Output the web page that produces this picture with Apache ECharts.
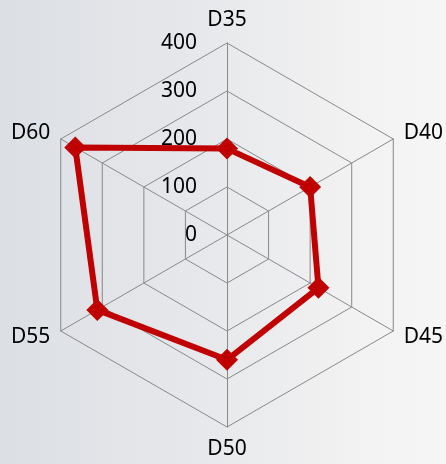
<!DOCTYPE html>
<html>
<head>
<meta charset="utf-8">
<script src="https://cdn.jsdelivr.net/npm/echarts@6/dist/echarts.min.js"></script>
<style>
  html, body { margin: 0; padding: 0; }
  body { background: linear-gradient(to right, #dcdfe4 0%, #e7e8eb 45%, #f2f2f2 80%, #f6f6f6 100%); }
  #radarChart { width: 446px; height: 464px; }
</style>
</head>
<body>
<div id="radarChart"></div>
<script>
  // indicators clockwise from the top
  var indicatorNames = ['D35', 'D40', 'D45', 'D50', 'D55', 'D60'];
  var seriesValues = [180, 200, 220, 260, 312, 365];
  var tickLabels = [0, 100, 200, 300, 400];

  var maxValue = tickLabels[tickLabels.length - 1];
  var labelFont = 'Noto Sans';

  // echarts lays indicators out counter-clockwise, so keep the first one and reverse the rest
  var order = [0].concat(indicatorNames.map(function (n, i) { return i; }).slice(1).reverse());

  var indicator = order.map(function (i, k) {
    var item = {name: indicatorNames[i], min: 0, max: maxValue};
    if (k === 0) {
      item.axisLabel = {show: true};
    }
    return item;
  });
  var values = order.map(function (i) { return seriesValues[i]; });

  var radarChart = echarts.init(document.getElementById('radarChart'));
  radarChart.setOption({
    backgroundColor: 'transparent',
    radar: {
      center: [227, 235],
      radius: 192,
      startAngle: 90,
      shape: 'polygon',
      splitNumber: tickLabels.length - 1,
      indicator: indicator,
      axisName: {
        color: '#000',
        fontFamily: labelFont,
        fontSize: 21
      },
      nameGap: 12,
      axisLine: {lineStyle: {color: '#888', width: 1}},
      splitLine: {lineStyle: {color: '#888', width: 1}},
      splitArea: {show: false},
      axisTick: {show: false},
      axisLabel: {
        show: false,
        color: '#000',
        fontFamily: labelFont,
        fontSize: 21,
        margin: 30
      }
    },
    series: [{
      type: 'radar',
      symbol: 'diamond',
      symbolSize: 22,
      lineStyle: {color: '#c00000', width: 6},
      itemStyle: {color: '#c00000'},
      data: [{value: values}]
    }]
  });
</script>
</body>
</html>
